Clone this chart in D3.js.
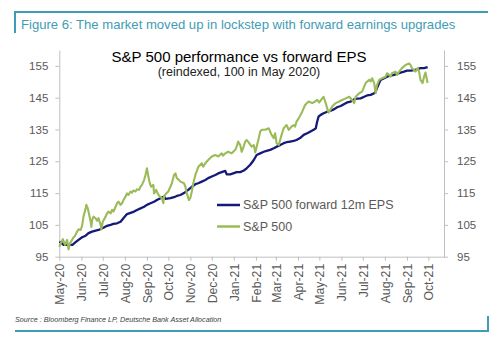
<!DOCTYPE html>
<html>
<head>
<meta charset="utf-8">
<script src="https://cdn.jsdelivr.net/npm/d3@7"></script>
<style>
  body { margin: 0; background: #fff; }
  svg { display: block; font-family: "Liberation Sans", Arial, sans-serif; }
</style>
</head>
<body>
<svg id="chart" width="500" height="338"></svg>
<script>
// days since 1 May 2020, and the reindexed level on each day
const epsDay = [0, 2, 6, 12, 18, 20, 22, 27, 32, 37, 41, 46, 51, 55, 59, 62, 67, 72, 76, 81, 86, 90, 95, 100, 105, 109, 114, 119, 123, 128, 133, 137, 142, 147, 149, 156, 161, 165, 170, 175, 181, 186, 191, 195, 200, 205, 209, 214, 219, 223, 228, 233, 235, 240, 244, 249, 254, 259, 263, 268, 273, 277, 282, 287, 291, 296, 301, 305, 310, 315, 319, 324, 329, 333, 338, 343, 348, 352, 357, 360, 362, 364, 367, 371, 376, 381, 386, 390, 395, 400, 404, 409, 414, 418, 423, 428, 432, 437, 442, 444, 446, 449, 451, 456, 460, 465, 470, 474, 479, 484, 488, 493, 498, 502, 507, 512, 517]
const epsValue = [99.7, 99.5, 98.7, 98.7, 98.7, 99.0, 99.4, 100.3, 101.1, 101.6, 102.4, 102.9, 103.2, 103.4, 103.8, 104.1, 104.7, 105.0, 105.3, 105.5, 106.0, 107.1, 108.4, 108.8, 109.2, 109.7, 110.2, 110.7, 111.3, 111.8, 112.3, 112.8, 113.4, 113.9, 113.2, 113.4, 113.7, 114.1, 114.4, 115.0, 116.0, 117.0, 117.8, 118.1, 118.6, 119.1, 119.7, 120.2, 120.7, 121.2, 121.6, 122.0, 120.9, 120.9, 121.2, 121.6, 121.6, 122.1, 122.8, 123.9, 125.4, 127.0, 127.5, 128.0, 128.3, 128.6, 129.1, 129.6, 130.1, 130.7, 131.0, 131.2, 131.4, 131.7, 132.3, 133.3, 133.8, 134.3, 134.9, 135.4, 137.5, 139.1, 139.6, 140.1, 140.6, 140.9, 141.4, 142.0, 142.4, 143.0, 143.5, 143.8, 144.5, 144.7, 144.8, 145.3, 145.7, 145.9, 146.4, 146.9, 148.0, 149.6, 150.6, 151.1, 151.6, 151.9, 152.2, 152.5, 152.9, 153.2, 153.5, 153.5, 153.7, 153.9, 154.3, 154.3, 154.6]

const spxDay = [0, 2, 5, 8, 11, 13, 15, 18, 20, 22, 25, 27, 30, 32, 34, 37, 38, 40, 42, 44, 45, 46, 48, 51, 53, 55, 58, 59, 61, 65, 67, 69, 72, 74, 76, 79, 81, 83, 86, 88, 90, 93, 95, 97, 100, 102, 104, 107, 109, 112, 114, 116, 119, 121, 123, 125, 127, 129, 132, 133, 136, 138, 141, 144, 146, 147, 150, 153, 156, 158, 161, 163, 165, 168, 170, 175, 177, 179, 182, 184, 186, 188, 191, 195, 200, 202, 205, 209, 214, 219, 223, 228, 230, 233, 237, 242, 247, 249, 251, 254, 256, 258, 261, 263, 265, 270, 273, 275, 277, 280, 282, 284, 289, 294, 296, 298, 301, 303, 305, 308, 310, 312, 315, 317, 319, 322, 324, 326, 329, 331, 333, 336, 341, 345, 350, 355, 359, 362, 365, 369, 371, 374, 376, 378, 383, 388, 393, 397, 402, 407, 411, 414, 416, 421, 425, 430, 435, 437, 439, 442, 444, 446, 449, 453, 458, 460, 463, 465, 467, 472, 474, 477, 481, 486, 491, 493, 495, 500, 503, 505, 507, 510, 512, 514, 517]
const spxValue = [98.1, 99.2, 100.5, 98.7, 100.3, 97.3, 99.2, 100.3, 101.1, 101.5, 102.9, 103.6, 103.4, 104.7, 107.6, 110.2, 111.3, 110.2, 108.1, 106.0, 104.4, 106.5, 107.6, 107.1, 106.3, 107.1, 105.0, 103.6, 106.0, 107.6, 108.6, 109.2, 108.6, 109.7, 109.2, 110.7, 111.8, 112.3, 111.3, 111.8, 112.8, 113.9, 114.9, 114.4, 115.5, 115.1, 115.8, 115.5, 116.2, 116.0, 117.0, 117.6, 119.1, 120.7, 122.8, 120.2, 118.1, 117.0, 117.6, 114.9, 116.0, 114.9, 113.9, 113.4, 111.8, 113.9, 114.9, 115.5, 117.0, 118.1, 120.7, 121.2, 119.7, 119.1, 118.6, 118.1, 117.0, 114.9, 112.8, 113.5, 115.5, 118.0, 120.7, 123.2, 124.4, 123.3, 124.4, 125.4, 126.5, 127.0, 126.5, 127.5, 126.8, 127.5, 128.0, 127.5, 128.6, 129.6, 131.2, 130.1, 128.0, 129.1, 131.2, 131.7, 131.2, 129.6, 130.1, 127.8, 129.6, 132.3, 134.3, 134.9, 134.9, 135.4, 134.3, 133.3, 132.3, 133.8, 130.7, 130.1, 131.7, 133.3, 135.4, 135.9, 136.4, 134.9, 135.4, 135.9, 136.4, 135.9, 137.5, 138.5, 140.6, 142.7, 143.8, 143.3, 143.8, 144.3, 143.5, 144.8, 145.3, 143.3, 141.7, 140.3, 142.2, 143.3, 143.8, 144.3, 144.8, 145.3, 144.3, 143.3, 145.3, 146.4, 146.9, 149.6, 150.6, 150.1, 151.1, 149.6, 146.4, 149.0, 150.6, 151.1, 151.6, 152.7, 152.2, 151.6, 152.7, 153.2, 152.2, 153.2, 154.3, 155.3, 155.8, 155.3, 154.3, 153.2, 154.3, 153.2, 150.6, 149.6, 151.6, 152.9, 149.6]

const yTicks = [95, 105, 115, 125, 135, 145, 155]
const seriesNames = ['S&P 500 forward 12m EPS', 'S&P 500']
const seriesColors = ['#141a78', '#9bbb59']

const start = new Date(2020, 4, 1)
const toPoints = (days, vals) => days.map((d, i) => ({ date: d3.timeDay.offset(start, d), value: vals[i] }))
const eps = toPoints(epsDay, epsValue)
const spx = toPoints(spxDay, spxValue)

const svg = d3.select('#chart')
const teal = '#3f9cb5'
const grey = '#595959'
const axisGrey = '#bfbfbf'

// frame around the figure
svg.append('path')
  .attr('d', 'M15,33V12H488')
  .attr('fill', 'none').attr('stroke', teal).attr('stroke-width', 2)
svg.append('path')
  .attr('d', 'M15,331H488V316')
  .attr('fill', 'none').attr('stroke', teal).attr('stroke-width', 2)

svg.append('text')
  .attr('x', 21).attr('y', 29)
  .attr('fill', teal).attr('font-size', 13.1)
  .text('Figure 6: The market moved up in lockstep with forward earnings upgrades')

svg.append('text')
  .attr('x', 239).attr('y', 62)
  .attr('text-anchor', 'middle').attr('font-size', 15).attr('fill', '#000')
  .text('S&P 500 performance vs forward EPS')
svg.append('text')
  .attr('x', 239).attr('y', 76)
  .attr('text-anchor', 'middle').attr('font-size', 12.5).attr('fill', '#222')
  .text('(reindexed, 100 in May 2020)')

const x = d3.scaleTime()
  .domain([start, new Date(2021, 9, 23)])
  .range([59.3, 444])
const y = d3.scaleLinear()
  .domain([95, 160])
  .range([256.7, 50])

// axes
const styleAxis = g => {
  g.select('.domain').attr('stroke', axisGrey)
  g.selectAll('.tick line').attr('stroke', axisGrey)
  g.selectAll('.tick text').attr('fill', grey).attr('font-size', 11.5)
}

svg.append('g')
  .attr('transform', `translate(${x.range()[0]},0)`)
  .call(d3.axisLeft(y).tickValues(yTicks).tickSize(4).tickSizeOuter(0).tickPadding(7))
  .call(styleAxis)

svg.append('g')
  .attr('transform', `translate(${x.range()[1]},0)`)
  .call(d3.axisRight(y).tickValues(yTicks).tickSize(4).tickSizeOuter(0).tickPadding(9))
  .call(styleAxis)

const xAxis = svg.append('g')
  .attr('transform', `translate(0,${y(95)})`)
  .call(d3.axisBottom(x).ticks(d3.timeMonth.every(1)).tickFormat(d3.timeFormat('%b-%y')).tickSize(4).tickSizeOuter(0))
  .call(styleAxis)
xAxis.selectAll('.tick text')
  .attr('transform', 'rotate(-90)')
  .attr('text-anchor', 'end')
  .attr('x', -7).attr('y', 0).attr('dy', '0.35em')
  .attr('font-size', 12.3)

// series
const line = d3.line().x(d => x(d.date)).y(d => y(d.value))

svg.append('path')
  .datum(eps)
  .attr('d', line)
  .attr('fill', 'none')
  .attr('stroke', seriesColors[0])
  .attr('stroke-width', 2.3)
  .attr('stroke-linejoin', 'round')

svg.append('path')
  .datum(spx)
  .attr('d', line)
  .attr('fill', 'none')
  .attr('stroke', seriesColors[1])
  .attr('stroke-width', 2.1)
  .attr('stroke-linejoin', 'round')

// legend
const legend = svg.append('g')
  .selectAll('g')
  .data(seriesNames)
  .join('g')
  .attr('transform', (d, i) => `translate(217,${205 + i * 21.5})`)
legend.append('line')
  .attr('x1', 0).attr('x2', 23)
  .attr('stroke', (d, i) => seriesColors[i])
  .attr('stroke-width', 2.5)
legend.append('text')
  .attr('x', 26).attr('dy', '0.35em')
  .attr('font-size', 12.5).attr('fill', grey)
  .text(d => d)

svg.append('text')
  .attr('x', 15).attr('y', 322)
  .attr('font-size', 7.2).attr('font-style', 'italic').attr('fill', '#404040')
  .text('Source : Bloomberg Finance LP, Deutsche Bank Asset Allocation')
</script>
</body>
</html>
